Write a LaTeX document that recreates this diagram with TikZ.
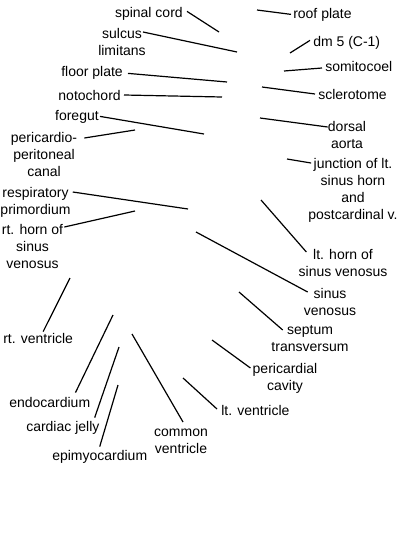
\documentclass[tikz,border=0pt]{standalone}
\usepackage{fontspec}
\setmainfont{Liberation Sans}
\usepackage{tikz}

\tikzset{
  lbl/.style={font=\fontsize{10.5pt}{12.75pt}\selectfont, inner sep=0pt, align=center},
  ptr/.style={line width=0.9pt}
}

\begin{document}
\begin{tikzpicture}[x=0.75pt, y=-0.75pt]

            \useasboundingbox (0,0) rectangle (400,550);

            % Spitzen der Hinweislinien
            \coordinate (spinal-p)   at (219,32);
            \coordinate (roof-p)     at (257,10);
            \coordinate (sulcus-p)   at (237,52);
            \coordinate (dmfive-p)   at (290,53);
            \coordinate (somito-p)   at (284,71);
            \coordinate (floor-p)    at (227,82);
            \coordinate (sclero-p)   at (262,87);
            \coordinate (noto-p)     at (222,97);
            \coordinate (foregut-p)  at (204,134);
            \coordinate (aorta-p)    at (260,118);
            \coordinate (ppcanal-p)  at (135,130);
            \coordinate (junction-p) at (287,159);
            \coordinate (resp-p)     at (188,209);
            \coordinate (rthorn-p)   at (135,211);
            \coordinate (lthorn-p)   at (261,200);
            \coordinate (sinus-p)    at (196,232);
            \coordinate (septum-p)   at (239,292);
            \coordinate (pcavity-p)  at (212,340);
            \coordinate (ltvent-p)   at (183,378);
            \coordinate (rtvent-p)   at (70,278);
            \coordinate (endo-p)     at (113,315);
            \coordinate (jelly-p)    at (119,347);
            \coordinate (epimyo-p)   at (118,385);
            \coordinate (commonv-p)  at (132,334);

            % Beschriftungen links
            \node[lbl, anchor=base east] (spinal) at (183,17) {spinal cord};
            \node[lbl, anchor=north] (sulcus) at (122,28) {sulcus\\limitans};
            \node[lbl, anchor=base east] (floor) at (123,76) {floor plate};
            \node[lbl, anchor=base east] (noto) at (121,100) {notochord};
            \node[lbl, anchor=base east] (foregut) at (99,120) {foregut};
            \node[lbl, anchor=north] (ppcanal) at (44,132) {pericardio-\\peritoneal\\canal};
            \node[lbl, anchor=north] (resp) at (35.5,187) {respiratory\\primordium};
            \node[lbl, anchor=north] (rthorn) at (32.5,224) {rt. horn of\\sinus\\venosus};
            \node[lbl, anchor=base west] (rtvent) at (3,343) {rt. ventricle};

            % Beschriftungen rechts
            \node[lbl, anchor=base west] (roof) at (293,18) {roof plate};
            \node[lbl, anchor=base west] (dmfive) at (313,46) {dm 5 (C-1)};
            \node[lbl, anchor=base west] (somito) at (325,71) {somitocoel};
            \node[lbl, anchor=base west] (sclero) at (318,99) {sclerotome};
            \node[lbl, anchor=north] (aorta) at (347,121) {dorsal\\aorta};
            \node[lbl, anchor=north] (junction) at (353,158) {junction of lt.\\sinus horn\\and\\postcardinal v.};
            \node[lbl, anchor=north] (lthorn) at (343,249) {lt. horn of\\sinus venosus};
            \node[lbl, anchor=north] (sinus) at (330,288) {sinus\\venosus};
            \node[lbl, anchor=north] (septum) at (310,325) {septum\\transversum};
            \node[lbl, anchor=north] (pcavity) at (285,363) {pericardial\\cavity};
            \node[lbl, anchor=base west] (ltvent) at (221,415) {lt. ventricle};

            % Beschriftungen unten
            \node[lbl, anchor=base west] (endo) at (9,407) {endocardium};
            \node[lbl, anchor=base west] (jelly) at (26,431) {cardiac jelly};
            \node[lbl, anchor=base west] (epimyo) at (52,460) {epimyocardium};
            \node[lbl, anchor=north] (commonv) at (181,429) {common\\ventricle};

            % Hinweislinien
            \draw[ptr] (spinal.east) ++(4,-2) -- (spinal-p);
            \draw[ptr] (sulcus.north east) ++(-3,4) -- (sulcus-p);
            \draw[ptr] (floor.east) ++(5,1) -- (floor-p);
            \draw[ptr] (noto.east) ++(3,0) -- (noto-p);
            \draw[ptr] (foregut.east) ++(1,0) -- (foregut-p);
            \draw[ptr] (ppcanal.north east) ++(7,6) -- (ppcanal-p);
            \draw[ptr] (resp.north east) ++(2,5) -- (resp-p);
            \draw[ptr] (rthorn.north east) ++(1,3) -- (rthorn-p);
            \draw[ptr] (rtvent.north) ++(5,-1) -- (rtvent-p);

            \draw[ptr] (roof.west) ++(-2,0) -- (roof-p);
            \draw[ptr] (dmfive.west) ++(-3,-2) -- (dmfive-p);
            \draw[ptr] (somito.west) ++(-3,2) -- (somito-p);
            \draw[ptr] (sclero.west) ++(-3,0) -- (sclero-p);
            \draw[ptr] (aorta.north west) ++(0,6) -- (aorta-p);
            \draw[ptr] (junction.north west) ++(3,5) -- (junction-p);
            \draw[ptr] (lthorn.north west) ++(8,3) -- (lthorn-p);
            \draw[ptr] (sinus.north west) ++(4,4) -- (sinus-p);
            \draw[ptr] (septum.north west) ++(11.5,5) -- (septum-p);
            \draw[ptr] (pcavity.north west) ++(-2,5) -- (pcavity-p);
            \draw[ptr] (ltvent.west) ++(-4,-1) -- (ltvent-p);

            \draw[ptr] (endo.north east) ++(-15,-4) -- (endo-p);
            \draw[ptr] (jelly.north east) ++(-5,-3) -- (jelly-p);
            \draw[ptr] (epimyo.north) ++(0,-3) -- (epimyo-p);
            \draw[ptr] (commonv.north) ++(2,-7) -- (commonv-p);

         \end{tikzpicture}
\end{document}
